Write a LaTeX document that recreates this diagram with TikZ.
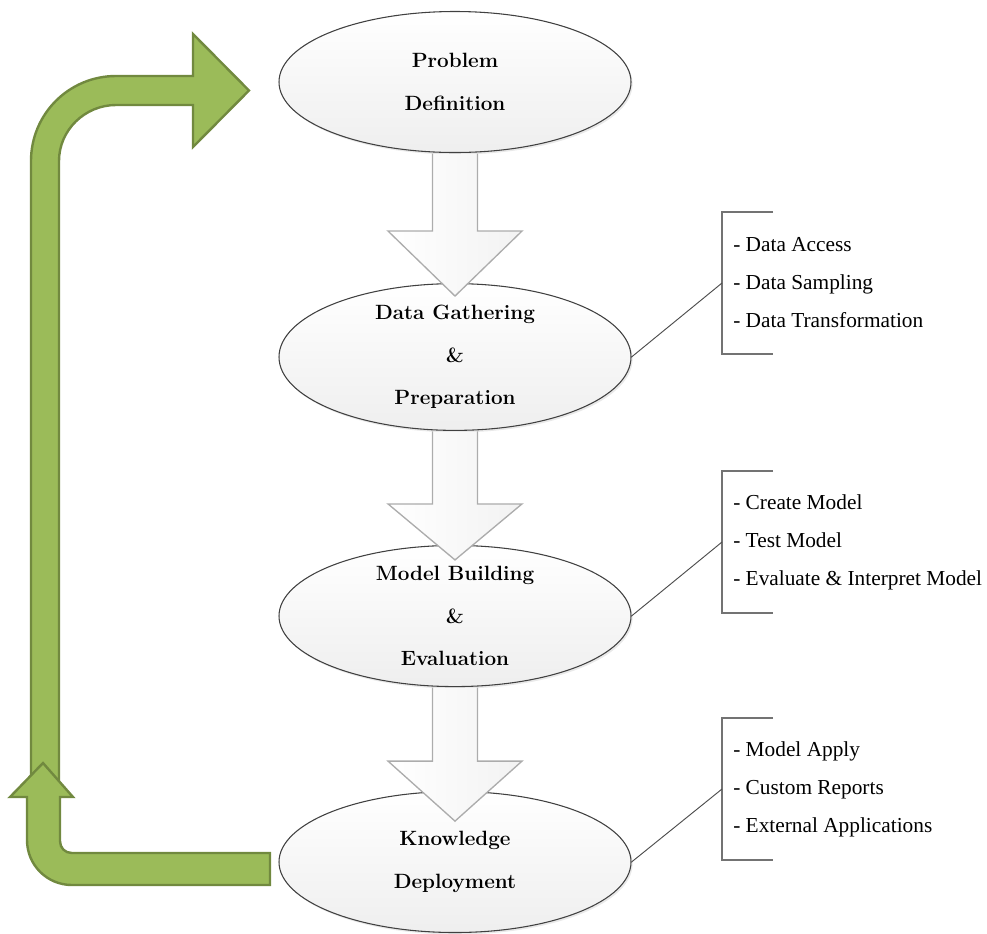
\documentclass[tikz,border=0pt]{standalone}
\usepackage{fontspec}
\newfontfamily\listfont{Liberation Serif}
\usetikzlibrary{calc,shapes.geometric,shadows}
\definecolor{ogreen}{HTML}{9BBB59}
\definecolor{ogreenD}{HTML}{71893F}
\newcommand\blkarrow[3]{%
  \path[blkfill] ($(#1.south)+(-22.5,1)$) -- ($(#1.south)+(-22.5,#2)$) -- ($(#1.south)+(-67,#2)$)
    -- ($(#1.south)+(0,#3)$) -- ($(#1.south)+(67,#2)$) -- ($(#1.south)+(22.5,#2)$)
    -- ($(#1.south)+(22.5,1)$) -- cycle;
  \draw[blkline] ($(#1.south)+(-22.5,0.5)$) -- ($(#1.south)+(-22.5,#2)$) -- ($(#1.south)+(-67,#2)$)
    -- ($(#1.south)+(0,#3)$) -- ($(#1.south)+(67,#2)$) -- ($(#1.south)+(22.5,#2)$)
    -- ($(#1.south)+(22.5,0.5)$);}
\begin{document}
\begin{tikzpicture}[x=0.75pt,y=-0.75pt,
  stage/.style={ellipse, draw=black!75, line width=0.8pt, top color=white, bottom color=gray!13,
    minimum width=264pt, minimum height=105.75pt, inner sep=0pt, align=center,
    font=\fontsize{15.5}{32}\selectfont\bfseries,
    drop shadow={shadow xshift=1.2pt,shadow yshift=-1.5pt,opacity=0.25,fill=gray!70}},
  blkfill/.style={left color=white, right color=gray!10},
  blkline/.style={draw=gray!65, line width=1pt, line join=miter},
  list/.style={anchor=west, minimum height=105.75pt, inner xsep=8.25pt, inner ysep=0pt,
    align=left, font=\listfont\fontsize{16}{28.5}\selectfont},
  brk/.style={draw=black!55, line width=1.2pt},
  conn/.style={draw=black!70, line width=0.7pt},
  gr/.style={fill=ogreen, draw=ogreenD, line width=1.8pt, line join=miter}]
\useasboundingbox (0,0) rectangle (987,933);

% green feedback arrows
\draw[gr] (31,790) -- (31,161) .. controls (31,114) and (69,76) .. (116,76) -- (193,76) -- (193,34)
  -- (249,90.5) -- (193,147) -- (193,105) -- (116,105) .. controls (85,105) and (59,130) .. (59,161)
  -- (59,790) -- cycle;
\draw[gr] (270,853) -- (72,853) .. controls (65,853) and (60,848) .. (60,841) -- (60,797) -- (73,797)
  -- (43,763) -- (10,797) -- (27,797) -- (27,840) .. controls (27,865) and (47,885) .. (72,885)
  -- (270,885) -- cycle;

% stages
\node[stage] (pd) at (455,82) {Problem\\Definition};
\node[stage] (dg) at (455,357) {Data Gathering\\\&\\Preparation};
\node[stage] (mb) at (455,616) {Model Building\\\&\\Evaluation};
\node[stage] (kd) at (455,862) {Knowledge\\Deployment};

% block arrows
\blkarrow{pd}{78}{143}
\blkarrow{dg}{73}{129}
\blkarrow{mb}{74}{134}

% lists
\node[list] (l1) at (722,283) {- Data Access\\- Data Sampling\\- Data Transformation};
\node[list] (l2) at (722,542) {- Create Model\\- Test Model\\- Evaluate \& Interpret Model};
\node[list] (l3) at (722,789) {- Model Apply\\- Custom Reports\\- External Applications};
\foreach \l in {l1,l2,l3}{
  \draw[brk] ($(\l.north west)+(51,0)$) -- (\l.north west) -- (\l.south west) -- ($(\l.south west)+(51,0)$);
}
\draw[conn] (dg.east) -- (l1.west);
\draw[conn] (mb.east) -- (l2.west);
\draw[conn] (kd.east) -- (l3.west);
\end{tikzpicture}
\end{document}
